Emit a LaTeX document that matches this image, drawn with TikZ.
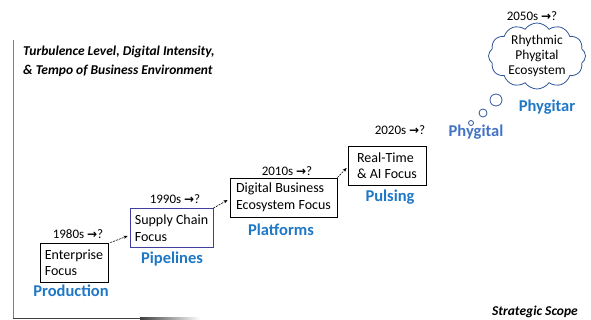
\documentclass[tikz,border=0pt]{standalone}
\usepackage{fontspec}
\setmainfont{Carlito}
\newfontfamily\arrowfont{DejaVu Sans}
\usetikzlibrary{shapes.symbols,arrows.meta,calc}
\definecolor{lblblue}{HTML}{1F78C6}
\definecolor{lightblue}{HTML}{4472C4}
\definecolor{cloudblue}{HTML}{2F5597}
\definecolor{boxpurple}{HTML}{3F3F9F}
\definecolor{axisgray}{HTML}{7F7F7F}
\newcommand{\yr}[1]{#1 {\arrowfont\bfseries\fontsize{12}{14}\selectfont →}?}
\tikzset{
  stagebox/.style={draw=black, line width=0.8pt, minimum height=39pt, inner xsep=2pt, inner ysep=2pt, align=left, font=\fontsize{14}{16.5}\selectfont},
  yearlbl/.style={font=\fontsize{13}{15}\selectfont, inner sep=0pt},
  phase/.style={font=\bfseries\fontsize{16.5}{19}\selectfont, text=lblblue, inner sep=0pt},
  axistitle/.style={font=\bfseries\itshape\fontsize{13.5}{19}\selectfont, inner sep=0pt, align=left},
  dasharrow/.style={line width=0.6pt, dash pattern=on 2pt off 1pt, -{Stealth[length=4pt,width=3.2pt]}},
  bubble/.style={draw=cloudblue, line width=0.8pt}
}
\begin{document}
\begin{tikzpicture}[x=1pt,y=-1pt]
\useasboundingbox (0,0) rectangle (591,320);
% axes
\fill[axisgray] (12.5,40) rectangle (14.2,319.3);
\fill[black!75] (12.5,317.6) rectangle (140.5,319.3);
\shade[left color=black!75, right color=white] (140,317.6) rectangle (200,319.3);
% axis texts
\node[axistitle, anchor=west] (ytitle) at (23,61) {Turbulence Level, Digital Intensity,\\\& Tempo of Business Environment};
\node[axistitle, anchor=east] (xtitle) at (578,312) {Strategic Scope};
% boxes
\node[stagebox, minimum width=68pt] (b1) at (74,262.5) {Enterprise\\Focus};
\node[stagebox, draw=boxpurple, minimum width=83pt] (b2) at (171.5,228) {Supply Chain\\Focus};
\node[stagebox, minimum width=107pt] (b3) at (283.5,197.5) {Digital Business\\Ecosystem Focus};
\node[stagebox, minimum width=78pt] (b4) at (387,165.5) {Real-Time\\\& AI Focus};
% years
\node[yearlbl] (y1) at (78,234) {\yr{1980s}};
\node[yearlbl] (y2) at (175,199) {\yr{1990s}};
\node[yearlbl] (y3) at (287,171) {\yr{2010s}};
\node[yearlbl] (y4) at (400,130) {\yr{2020s}};
\node[yearlbl] (y5) at (532,16) {\yr{2050s}};
% phase labels
\node[phase] (p1) at (71,291) {Production};
\node[phase] (p2) at (172,259) {Pipelines};
\node[phase] (p3) at (281,230) {Platforms};
\node[phase] (p4) at (390,197) {Pulsing};
\node[phase, text=lightblue] (p5) at (476,132) {Phygital};
\node[phase] (p6) at (547,107) {Phygitar};
% arrows
\draw[dasharrow] ([xshift=2pt]b1.north east) -- ([xshift=-2pt,yshift=-8pt]b2.west);
\draw[dasharrow] (b2.north east) -- ([xshift=-2pt,yshift=-2.5pt]b3.west);
\draw[dasharrow] (b3.north east) -- ([xshift=-1pt,yshift=-2.5pt]b4.west);
% cloud
\node[cloud, cloud puffs=12, cloud puff arc=110, cloud ignores aspect, draw=cloudblue, line width=0.8pt, minimum width=97pt, minimum height=66pt, inner sep=0pt] (cl) at (537,56) {};
\node[align=center, inner sep=0pt, font=\fontsize{13.5}{15}\selectfont] (cltext) at (cl.center) {Rhythmic\\Phygital\\Ecosystem};
\draw[bubble] (496,100) circle (6);
\draw[bubble] (483,113) circle (4);
\draw[bubble] (471,123) circle (2.5);
\end{tikzpicture}
\end{document}
